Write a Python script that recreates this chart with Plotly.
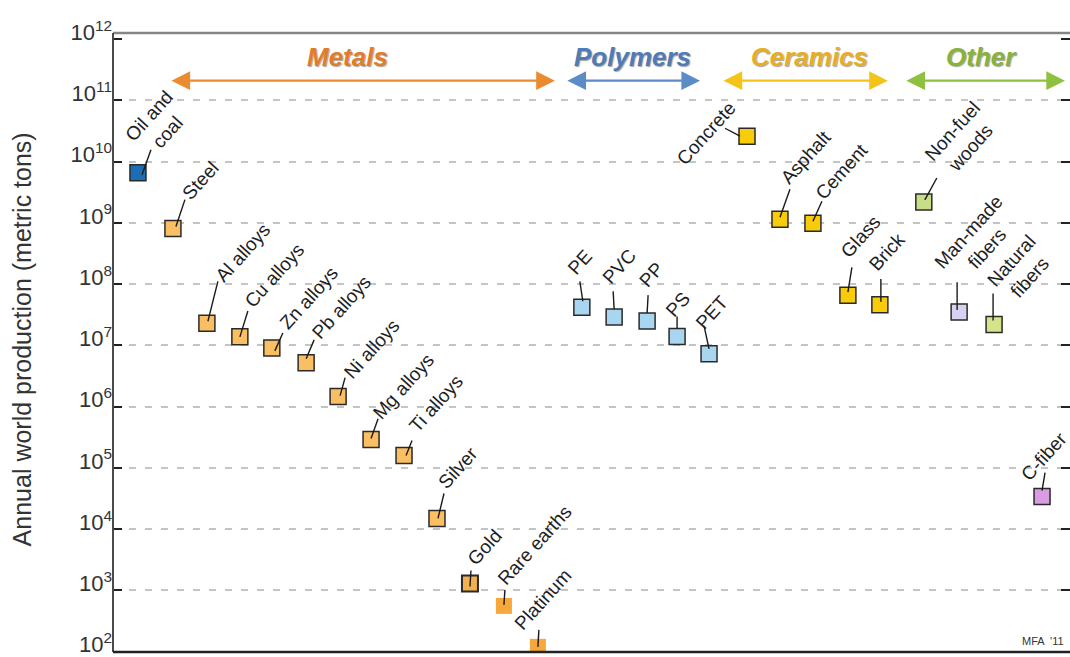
import numpy as np
import plotly.graph_objects as go

# ---------------- data ----------------
materials = ["Oil and coal", "Steel", "Al alloys", "Cu alloys", "Zn alloys", "Pb alloys",
             "Ni alloys", "Mg alloys", "Ti alloys", "Silver", "Gold", "Rare earths", "Platinum",
             "PE", "PVC", "PP", "PS", "PET",
             "Concrete", "Asphalt", "Cement", "Glass", "Brick",
             "Non-fuel woods", "Man-made fibers", "Natural fibers", "C-fiber"]
label_text = ["Oil and<br>coal", "Steel", "Al alloys", "Cu alloys", "Zn alloys", "Pb alloys",
              "Ni alloys", "Mg alloys", "Ti alloys", "Silver", "Gold", "Rare earths", "Platinum",
              "PE", "PVC", "PP", "PS", "PET",
              "Concrete", "Asphalt", "Cement", "Glass", "Brick",
              "Non-fuel<br>woods", "Man-made<br>fibers", "Natural<br>fibers", "C-fiber"]
production = [6.6e9, 8.1e8, 2.3e7, 1.38e7, 9.1e6, 5.2e6,
              1.46e6, 2.9e5, 1.6e5, 1.5e4, 1.3e3, 560, 120,
              4.2e7, 2.9e7, 2.5e7, 1.4e7, 7.3e6,
              2.6e10, 1.15e9, 9.9e8, 6.6e7, 4.6e7,
              2.2e9, 3.5e7, 2.2e7, 3.4e4]
slot = [0.75, 1.80, 2.82, 3.81, 4.77, 5.80, 6.76, 7.75, 8.74, 9.73, 10.72, 11.74, 12.76,
        14.08, 15.05, 16.04, 16.94, 17.90,
        19.04, 20.03, 21.02, 22.07, 23.03,
        24.35, 25.41, 26.46, 27.90]

group_names = ["Metals", "Polymers", "Ceramics", "Other"]
group_from = [1.71, 13.60, 18.29, 23.78]
group_to = [13.27, 17.63, 23.27, 28.59]
group_label_x = [7.03, 15.59, 20.93, 26.07]

tick_exponents = list(range(2, 13))
tick_values = [10.0 ** e for e in tick_exponents]
tick_labels = ["10<sup>%d</sup>" % e for e in tick_exponents]
grid_values = [10.0 ** e for e in range(3, 12)]

# ---------------- layout constants ----------------
W, H = 1070, 657
ML, MR, MT, MB = 113, 0, 33, 3
XR = [0, 28.74]
YR = [1.995, 12.1]
PX_PER_UNIT = (W - ML - MR) / (XR[1] - XR[0])
PX_PER_DEC = (H - MT - MB) / (YR[1] - YR[0])

# ---------------- styles ----------------
fill = (["#1B6DB8"] + ["#F9BF62"] * 9 + ["#F2B04E", "#F6A83A", "#F6A83A"]
        + ["#A8D5EF"] * 5 + ["#F9CC0A"] * 5
        + ["#C8DE86", "#D6D2F1", "#D5E48A", "#D99CE2"])
edge_w = [1.5] * 27
edge_w[10] = 2.0
edge_w[11] = 0
edge_w[12] = 0

# leader line start / end offsets (px, screen, y down) relative to marker centre
leader = [((4, 2), (13, -23)), ((3, -2), (12, -29)), ((1, -2), (11, -42)), ((0, 0), (8, -26)),
          ((3, 3), (11, -15)), ((0, -4), (8, -23)), ((2, -1), (7, -19)), ((0, -1), (7, -21)),
          ((2, 0), (8, -15)), ((1, 0), (7, -25)), ((0, 3), (1, -13)), ((0, -1), (1, -16)),
          ((0, 0), (1, -17)),
          ((1, -6), (-2, -26)), ((0, -8), (-1, -26)), ((0, -8), (1, -26)), ((0, -8), (0, -20)),
          ((0, -5), (-5, -28)),
          ((-7, 0), (-22, -8)), ((0, -2), (10, -30)), ((0, -2), (9, -22)), ((0, -3), (4, -28)),
          ((1, -3), (1, -26)),
          ((1, -2), (13, -24)), ((-2, -2), (-2, -30)), ((-1, -4), (-1, -31)), ((0, -6), (3, -24))]
# text baseline start (or end for Concrete) offsets, px relative to marker centre
text_pt = [(-10, -28), (12, -29), (11, -42), (7, -30), (11, -19), (8, -24), (9, -18), (4, -21),
           (8, -23), (4, -30), (0, -18), (-4, -21), (-21, -17),
           (-12, -33), (-9, -33), (-5, -34), (-9, -20), (-11, -25),
           (-12, -20), (3, -35), (5, -24), (-5, -38), (-8, -34),
           (4, -37), (-22, -40), (-4, -34), (-19, -16)]

FONT = "Arial, Liberation Sans, sans-serif"
LBL_SIZE = 19
ANG = -48

fig = go.Figure()

# leader lines (data position + pixel offsets)
lx, lyv = [], []
for i in range(len(materials)):
    (s0x, s0y), (s1x, s1y) = leader[i]
    for dx, dy in ((s0x, s0y), (s1x, s1y)):
        lx.append(slot[i] + dx / PX_PER_UNIT)
        lyv.append(production[i] * 10 ** (-dy / PX_PER_DEC))
    lx.append(None)
    lyv.append(None)

fig.add_trace(go.Scatter(
    x=slot, y=production, mode="markers",
    marker=dict(symbol="square", size=16, color=fill,
                line=dict(color="#2a2a2a", width=edge_w)),
    hoverinfo="text", hovertext=materials, showlegend=False))
fig.add_trace(go.Scatter(
    x=lx, y=lyv, mode="lines", line=dict(color="#1a1a1a", width=1.4),
    hoverinfo="skip", showlegend=False, cliponaxis=False))
# invisible twin used only to carry the dashed grid axis
fig.add_trace(go.Scatter(
    x=slot, y=production, mode="markers", yaxis="y2",
    marker=dict(size=1, opacity=0), hoverinfo="skip", showlegend=False))

annotations = []
for i, name in enumerate(materials):
    ly = np.log10(production[i])
    tx, ty = text_pt[i]
    two = "<br>" in label_text[i]
    if name == "Concrete":
        xa, ya = "right", "top"
        xs, ys = tx + 7.5, -(ty - 21)
    elif two:
        xa, ya = "left", "bottom"
        xs, ys = tx - 9.5, -(ty + 19.5)
    else:
        xa, ya = "left", "bottom"
        xs, ys = tx - 9.4, -(ty + 7)
    annotations.append(dict(
        x=slot[i], y=ly, xref="x", yref="y", text=label_text[i], showarrow=False,
        textangle=ANG, xanchor=xa, yanchor=ya, xshift=xs, yshift=ys, align="center",
        font=dict(family=FONT, size=LBL_SIZE, color="#1e1e1e")))

text_cols = ["#E17D29", "#4F7CB7", "#E6AE22", "#87B23C"]
arrow_cols = ["#EB8A2E", "#5B8CC7", "#F5C418", "#8DC13F"]
for g, name in enumerate(group_names):
    annotations.append(dict(
        x=group_to[g], y=0.923, xref="x", yref="paper", axref="x", ayref="pixel",
        ax=group_from[g], ay=0, text="", showarrow=True, arrowside="end+start",
        arrowhead=2, arrowsize=1.7, arrowwidth=2.2, arrowcolor=arrow_cols[g],
        standoff=0, startstandoff=0))
    annotations.append(dict(
        x=group_label_x[g], y=0.961, xref="x", yref="paper", text=name, showarrow=False,
        xanchor="center", yanchor="middle",
        font=dict(family=FONT, size=26, color=text_cols[g], weight="bold", style="italic",
                  shadow="1px 1px 1px rgba(90,90,90,0.55)")))

annotations.append(dict(
    x=0.948, y=0.018, xref="paper", yref="paper", text="MFA  '11", showarrow=False,
    xanchor="left", yanchor="middle",
    font=dict(family="Liberation Sans Narrow, Arial Narrow, Liberation Sans", size=11, color="#333")))

annotations.append(dict(
    x=0, y=0.505, xref="paper", yref="paper", xshift=-91, text="Annual world production (metric tons)",
    showarrow=False, textangle=-90, xanchor="center", yanchor="middle",
    font=dict(family=FONT, size=25, color="#333")))

shapes = [
    dict(type="line", xref="paper", yref="paper", x0=0, x1=1, y0=1, y1=1,
         line=dict(color="#858585", width=2.5), layer="above"),
    dict(type="line", xref="paper", yref="paper", x0=0, x1=0, y0=0, y1=1,
         line=dict(color="#4a4a4a", width=2), layer="above"),
    dict(type="line", xref="paper", yref="paper", x0=0, x1=1, y0=0, y1=0,
         line=dict(color="#222222", width=2.5), layer="above"),
]

fig.update_layout(
    width=W, height=H,
    margin=dict(l=ML, r=MR, t=MT, b=MB),
    paper_bgcolor="white", plot_bgcolor="white",
    showlegend=False,
    annotations=annotations, shapes=shapes,
    xaxis=dict(range=XR, visible=False, showgrid=False, zeroline=False),
    yaxis=dict(type="log", range=YR, tickvals=tick_values, ticktext=tick_labels,
               ticks="inside", ticklen=9, tickwidth=2, tickcolor="#222", mirror="ticks",
               showline=False, showgrid=False, zeroline=False, ticklabelshift=-7,
               ticklabeloverflow="allow",
               tickfont=dict(family=FONT, size=22, color="#333")),
    yaxis2=dict(type="log", range=YR, overlaying="y", side="left", anchor="x",
                tickvals=grid_values, showticklabels=False, ticks="",
                showline=False, showgrid=True, gridcolor="#C4C4C4", gridwidth=2,
                griddash="7px,9px", zeroline=False),
)

fig.write_html("out.html")
